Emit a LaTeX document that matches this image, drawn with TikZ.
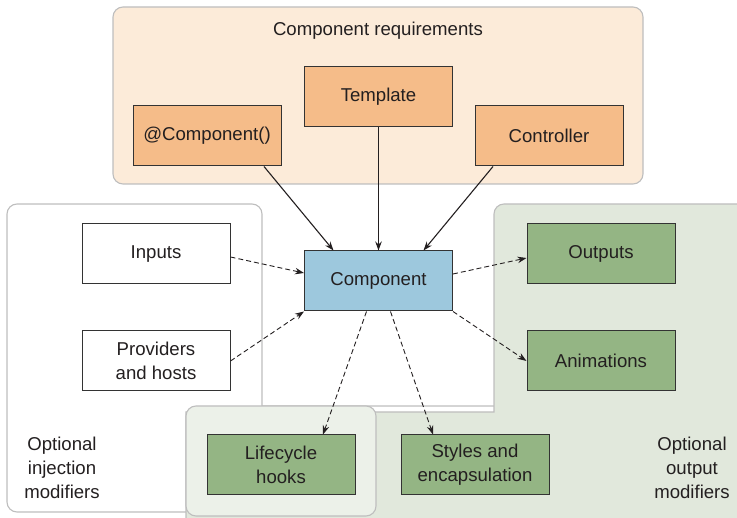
\documentclass[tikz,border=0pt]{standalone}
\usepackage{fontspec}
\setmainfont{Liberation Sans}
\usetikzlibrary{arrows.meta,positioning,calc}

\definecolor{reqfill}{HTML}{FCEBD9}
\definecolor{reqbox}{HTML}{F5BC89}
\definecolor{corebox}{HTML}{9DC8DD}
\definecolor{optbox}{HTML}{94B584}
\definecolor{outfill}{HTML}{E1E8DC}
\definecolor{hookfill}{HTML}{ECF1E9}
\definecolor{grpline}{HTML}{BEBEBE}
\definecolor{boxline}{HTML}{333333}
\definecolor{txt}{HTML}{231F20}

\begin{document}
\begin{tikzpicture}[x=1pt, y=-1pt, >={Stealth[length=9pt,width=6.5pt]}, semithick,
    font=\fontsize{18.6}{24}\selectfont, text=txt,
    box/.style={draw=boxline, line width=1pt, minimum width=148pt, minimum height=60pt, inner sep=0pt, align=center},
    reqnode/.style={box, fill=reqbox},
    corenode/.style={box, fill=corebox},
    plainnode/.style={box, fill=white},
    optnode/.style={box, fill=optbox},
    grp/.style={draw=grpline, line width=1.1pt},
    must/.style={->, color=txt, line width=1.1pt},
    may/.style={->, color=txt, line width=0.9pt, dash pattern=on 5pt off 3pt}]
    \useasboundingbox (0,0) rectangle (737,518);

    \draw[grp, fill=white] (262,406) [rounded corners=10pt] -- (262,204) -- (7,204) -- (7,512) -- (520,512) [sharp corners] -- (520,406) -- cycle;
    \draw[grp, fill=outfill] (186,530) -- (186,412) -- (494,412) [rounded corners=10pt] -- (494,204) -- (750,204) [sharp corners] -- (750,530) -- cycle;
    \draw[grp, fill=hookfill, rounded corners=10pt] (186,406) rectangle (376,516);
    \draw[grp, fill=reqfill, rounded corners=10pt]  (113,7) rectangle (643,184);

    \node                    (reqtitle) at (378,31)    {Component requirements};
    \node[align=center]      (injtitle) at (62,468)    {Optional\\injection\\modifiers};
    \node[align=center]      (outtitle) at (692,468)   {Optional\\output\\modifiers};

    \node[reqnode]           (acomp)    at (207,136)   {@Component()};
    \node[reqnode]           (tmpl)     at (378.5,97)  {Template};
    \node[reqnode]           (ctrl)     at (549,136)   {Controller};
    \node[corenode]          (comp)     at (378.5,281) {Component};
    \node[plainnode]         (inputs)   at (156,254)   {Inputs};
    \node[plainnode]         (prov)     at (156,361)   {Providers\\and hosts};
    \node[optnode]           (outputs)  at (601,254)   {Outputs};
    \node[optnode]           (anim)     at (601,361)   {Animations};
    \node[optnode]           (hooks)    at (281,465)   {Lifecycle\\hooks};
    \node[optnode]           (styles)   at (475,465)   {Styles and\\encapsulation};

    \path[must] ([xshift=57]acomp.south)  edge ([xshift=-45]comp.north)
                (tmpl)                    edge (comp)
                ([xshift=-56]ctrl.south)  edge ([xshift=45]comp.north);
    \path[may]  ([yshift=-3]inputs.east)  edge ([yshift=8]comp.west)
                (prov.east)               edge (comp.south west)
                ([yshift=7]comp.east)     edge ([yshift=-4]outputs.west)
                (comp.south east)         edge (anim.west)
                ([xshift=-12]comp.south)  edge ([xshift=42]hooks.north)
                ([xshift=12]comp.south)   edge ([xshift=-42]styles.north);
\end{tikzpicture}
\end{document}
